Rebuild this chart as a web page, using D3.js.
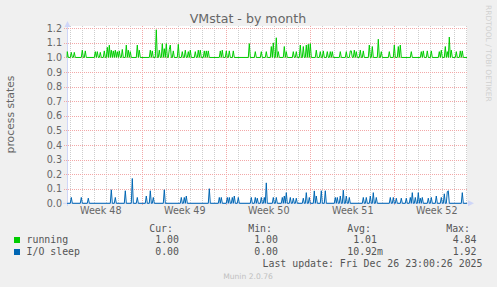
<!DOCTYPE html>
<html>
<head>
<meta charset="utf-8">
<script src="https://cdn.jsdelivr.net/npm/d3@7"></script>
<style>
  html, body { margin: 0; padding: 0; background: #F0F0F0; }
  svg { display: block; }
</style>
</head>
<body>
<svg id="chart" width="497" height="287"></svg>
<script>
// hours after Mon 24 Nov 2025 00:00 (UTC), value at that 2h sample
const runningSpikes = [
  [18, 1.04], [26, 1.035], [32, 1.035], [48, 1.05], [54, 1.045], [74, 1.04], [78, 1.04], [84, 1.035],
  [92, 1.045], [98, 1.07], [102, 1.084], [106, 1.05], [110, 1.045], [114, 1.05], [118, 1.04], [122, 1.045],
  [128, 1.055], [136, 1.085], [140, 1.05], [144, 1.04], [158, 1.085], [162, 1.05], [184, 1.05], [188, 1.045],
  [196, 1.19], [202, 1.05], [208, 1.095], [212, 1.06], [216, 1.095], [222, 1.055], [224, 1.085], [230, 1.045],
  [240, 1.09], [248, 1.04], [254, 1.05], [260, 1.04], [264, 1.05], [274, 1.04], [280, 1.05], [284, 1.05],
  [292, 1.045], [296, 1.045], [300, 1.045], [324, 1.045], [328, 1.05], [336, 1.045], [342, 1.045], [350, 1.045],
  [382, 1.095], [394, 1.04], [406, 1.04], [416, 1.04], [426, 1.075], [430, 1.1], [436, 1.135], [440, 1.04],
  [452, 1.075], [456, 1.04], [470, 1.04], [476, 1.04], [484, 1.085], [490, 1.075], [496, 1.085], [500, 1.09],
  [504, 1.095], [516, 1.05], [524, 1.04], [530, 1.045], [538, 1.04], [544, 1.04], [548, 1.04], [564, 1.04],
  [576, 1.04], [584, 1.045], [586, 1.045], [592, 1.05], [596, 1.04], [604, 1.05], [610, 1.045], [622, 1.085],
  [628, 1.075], [640, 1.125], [646, 1.04], [662, 1.04], [672, 1.085], [680, 1.075], [684, 1.085], [706, 1.04],
  [726, 1.04], [730, 1.045], [738, 1.045], [746, 1.045], [762, 1.04], [766, 1.05], [774, 1.075], [778, 1.04],
  [782, 1.14], [786, 1.05], [796, 1.04], [804, 1.045], [808, 1.045]
];
const ioSpikes = [
  [26, 0.04], [46, 0.04], [60, 0.035], [106, 0.093], [114, 0.04], [134, 0.086], [148, 0.17], [158, 0.04],
  [176, 0.05], [184, 0.086], [190, 0.04], [212, 0.093], [246, 0.04], [252, 0.04], [256, 0.05], [302, 0.1],
  [322, 0.04], [326, 0.04], [338, 0.04], [342, 0.04], [348, 0.04], [352, 0.05], [360, 0.04], [386, 0.04],
  [394, 0.04], [398, 0.035], [406, 0.04], [412, 0.04], [416, 0.14], [430, 0.04], [436, 0.04], [448, 0.04],
  [452, 0.05], [456, 0.073], [464, 0.04], [470, 0.035], [476, 0.035], [490, 0.035], [496, 0.073], [502, 0.04],
  [512, 0.085], [516, 0.05], [526, 0.086], [534, 0.086], [554, 0.04], [558, 0.04], [564, 0.05], [570, 0.09],
  [576, 0.05], [582, 0.04], [610, 0.04], [616, 0.04], [624, 0.05], [630, 0.073], [636, 0.04], [664, 0.04],
  [670, 0.04], [676, 0.035], [686, 0.035], [696, 0.035], [704, 0.04], [708, 0.073], [714, 0.04], [720, 0.073],
  [724, 0.035], [728, 0.04], [740, 0.035], [746, 0.04], [756, 0.05], [766, 0.04], [772, 0.065], [778, 0.08],
  [780, 0.086], [808, 0.073]
];
const runningBase = 1.0;
const ioBase = 0.0;

const yTicks = [0, 0.1, 0.2, 0.3, 0.4, 0.5, 0.6, 0.7, 0.8, 0.9, 1.0, 1.1, 1.2];
const seriesNames = ['running', 'I/O sleep'];
const seriesColors = ['#00CC00', '#0066B3'];
const curVals = ['1.00', '0.00'];
const minVals = ['1.00', '0.00'];
const avgVals = ['1.01', '10.92m'];
const maxVals = ['4.84', '1.92'];

const title = 'VMstat - by month';
const yLabel = 'process states';
const lastUpdate = 'Last update: Fri Dec 26 23:00:26 2025';

const t0 = Date.UTC(2025, 10, 24, 0, 0);
const startH = 17.4, endH = 817.4;
const HOUR = 3600e3;

const svg = d3.select('#chart');
const pLeft = 67, pRight = 467, pTop = 28.3, pBottom = 203.3;

const x = d3.scaleUtc()
    .domain([new Date(t0 + startH * HOUR), new Date(t0 + endH * HOUR)])
    .range([pLeft, pRight]);
const y = d3.scaleLinear().domain([0, 1.2]).range([pBottom, pTop]);

// canvas
svg.append('rect').attr('x', pLeft).attr('y', 26).attr('width', pRight - pLeft).attr('height', pBottom - 26)
    .attr('fill', '#fff');

// grid: days (gray) and weeks (red)
const days = d3.utcDay.range(x.domain()[0], x.domain()[1]);
days.forEach(d => {
    const isMon = d.getUTCDay() === 1;
    const px = Math.round(x(d)) + 0.5;
    svg.append('line')
        .attr('x1', px).attr('x2', px)
        .attr('y1', 26).attr('y2', isMon ? 206 : 203)
        .attr('stroke', isMon ? '#F2A8A8' : '#CDCDCD')
        .attr('stroke-dasharray', '1,1');
});
yTicks.filter(v => v > 0).forEach(v => {
    const py = Math.round(y(v)) + 0.5;
    svg.append('line')
        .attr('x1', 64).attr('x2', pRight)
        .attr('y1', py).attr('y2', py)
        .attr('stroke', '#F2A8A8')
        .attr('stroke-dasharray', '1,1');
});

// y axis labels
const yAxis = svg.append('g')
    .attr('transform', `translate(${pLeft - 4},0)`)
    .call(d3.axisLeft(y).tickValues(yTicks).tickFormat(d3.format('.1f')).tickSize(0).tickPadding(1));
yAxis.select('.domain').remove();
yAxis.selectAll('text')
    .attr('fill', '#666')
    .style('font', '9.6px "DejaVu Sans"');

// x axis week labels centered in each week
const mondays = d3.utcMonday.range(d3.utcMonday.floor(x.domain()[0]), x.domain()[1]);
const labelDates = mondays.map(d => new Date(+d + 3.5 * 24 * HOUR))
    .filter(d => x(d) > pLeft && x(d) < pRight);
const xAxis = svg.append('g')
    .attr('transform', `translate(0,${pBottom})`)
    .call(d3.axisBottom(x).tickValues(labelDates).tickFormat(d3.utcFormat('Week %V')).tickSize(0).tickPadding(4));
xAxis.select('.domain').remove();
xAxis.selectAll('text')
    .attr('fill', '#666')
    .style('font', '9.6px "DejaVu Sans"');

// series
function toPoints(spikes, base) {
    const m = new Map(spikes.map(d => [d[0], d[1]]));
    const hrs = new Set([startH, endH]);
    spikes.forEach(d => { hrs.add(d[0] - 2); hrs.add(d[0]); hrs.add(d[0] + 2); });
    return [...hrs].filter(h => h >= startH && h <= endH).sort((a, b) => a - b)
        .map(h => ({ date: new Date(t0 + h * HOUR), v: m.has(h) ? m.get(h) : base }));
}
const line = d3.line().x(d => x(d.date)).y(d => y(d.v));

// axes lines + arrows
svg.append('line').attr('x1', 63).attr('x2', 469).attr('y1', pBottom).attr('y2', pBottom)
    .attr('stroke', '#CFD6F8');
svg.append('line').attr('x1', pLeft + 0.5).attr('x2', pLeft + 0.5).attr('y1', 206).attr('y2', 24)
    .attr('stroke', '#CFD6F8');
svg.append('path').attr('d', `M${pLeft - 2.5},27L${pLeft + 3.5},27L${pLeft + 0.5},21Z`).attr('fill', '#CFD6F8');
svg.append('path').attr('d', `M468,${pBottom - 3}L468,${pBottom + 3}L474,${pBottom}Z`).attr('fill', '#CFD6F8');

[[runningSpikes, runningBase], [ioSpikes, ioBase]].forEach((s, i) => {
    svg.append('path')
        .datum(toPoints(s[0], s[1]))
        .attr('fill', 'none')
        .attr('stroke', seriesColors[i])
        .attr('stroke-width', 1)
        .attr('d', line);
});

// title and labels
svg.append('text').attr('x', 248).attr('y', 23).attr('text-anchor', 'middle')
    .attr('fill', '#666').style('font', '12.6px "DejaVu Sans"').text(title);
svg.append('text').attr('transform', 'translate(14,114.5) rotate(-90)').attr('text-anchor', 'middle')
    .attr('fill', '#666').style('font', '10.8px "DejaVu Sans"').text(yLabel);
svg.append('text').attr('transform', 'translate(486,5) rotate(90)')
    .attr('fill', '#d0d0d0').style('font', '7.5px "DejaVu Sans"').text('RRDTOOL / TOBI OETIKER');

// legend
const mono = '9.9px "DejaVu Sans Mono"';
const cols = [['Cur:', 173, curVals, 179], ['Min:', 272, minVals, 278], ['Avg:', 371, avgVals, 377], ['Max:', 470, maxVals, 476.5]];
cols.forEach(c => {
    svg.append('text').attr('x', c[1]).attr('y', 231.5).attr('text-anchor', 'end')
        .attr('fill', '#555').style('font', mono).text(c[0]);
});
seriesNames.forEach((name, i) => {
    const by = 243 + i * 12;
    svg.append('rect').attr('x', 14).attr('y', by - 6).attr('width', 6).attr('height', 6)
        .attr('fill', seriesColors[i]);
    svg.append('text').attr('x', 26.5).attr('y', by)
        .attr('fill', '#555').style('font', mono).text(name);
    cols.forEach(c => {
        const v = c[2][i];
        const hasUnit = /[a-zA-Z]$/.test(v);
        svg.append('text').attr('x', c[3] + (hasUnit ? 6 : 0)).attr('y', by).attr('text-anchor', 'end')
            .attr('fill', '#555').style('font', mono).text(v);
    });
});
svg.append('text').attr('x', 482.5).attr('y', 267).attr('text-anchor', 'end')
    .attr('fill', '#555').style('font', mono).text(lastUpdate);
svg.append('text').attr('x', 248).attr('y', 279).attr('text-anchor', 'middle')
    .attr('fill', '#C0C0C0').style('font', '7.6px "DejaVu Sans"').text('Munin 2.0.76');
</script>
</body>
</html>
